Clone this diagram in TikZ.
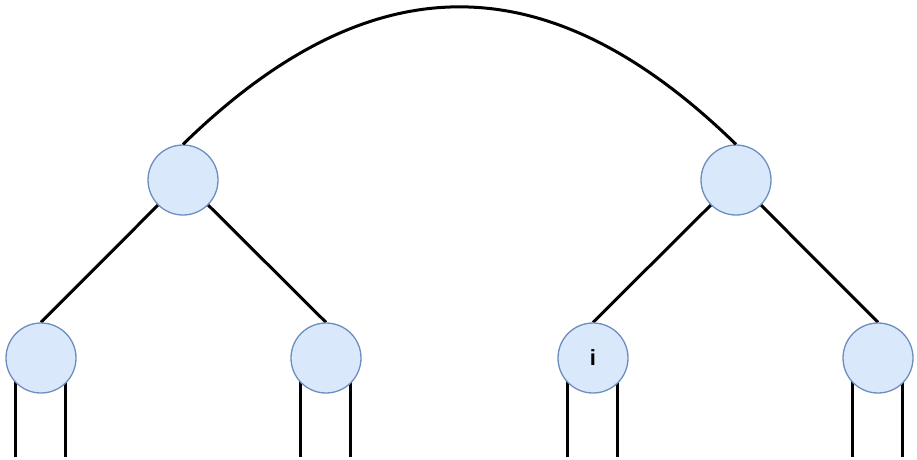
\documentclass[tikz,border=0pt]{standalone}
\usepackage{fontspec}
\setsansfont{Liberation Sans}
\usetikzlibrary{positioning,calc,backgrounds}
\definecolor{nodefill}{RGB}{218,232,252}
\definecolor{nodeline}{RGB}{108,142,191}

\begin{document}
\begin{tikzpicture}[
	x=1pt,
	y=-1pt,
	vertex/.style={
		circle,
		draw=nodeline,
		fill=nodefill,
		line width=1.3pt,
		minimum size=70pt,
		inner sep=0pt,
		font=\sffamily\bfseries\fontsize{22}{26}\selectfont
	},
	edge/.style={
		draw,
		line width=3pt,
		color=black
	}
	]
	\useasboundingbox (0,0) rectangle (917,459);
	
	% Upper level
	\node[vertex] (left) at (183,180) {};
	\node[vertex] (right) at (736,180) {};
	
	% Lower level
	\node[vertex] (ll) at (41,358) {};
	\node[vertex] (lr) at (326,358) {};
	\node[vertex] (rl) at (593,358) {i};
	\node[vertex] (rr) at (878,358) {};
	
	% Top arc
	\path[edge] (left.north) .. controls (371,-39) and (548,-39) .. (right.north);
	
	% Branches and leg stubs, behind the circles
	\begin{scope}[on background layer]
		\path[edge] (ll.north) -- (left.center);
		\path[edge] (lr.north) -- (left.center);
		\path[edge] (rl.north) -- (right.center);
		\path[edge] (rr.north) -- (right.center);
		\foreach \leaf in {ll,lr,rl,rr} {
			\coordinate (\leaf-a) at ($(\leaf.center)+(-26,99)$);
			\coordinate (\leaf-b) at ($(\leaf.center)+(24,99)$);
			\path[edge] ($(\leaf.center)+(-26,0)$) -- (\leaf-a);
			\path[edge] ($(\leaf.center)+(24,0)$) -- (\leaf-b);
		}
	\end{scope}
	
\end{tikzpicture}
\end{document}
